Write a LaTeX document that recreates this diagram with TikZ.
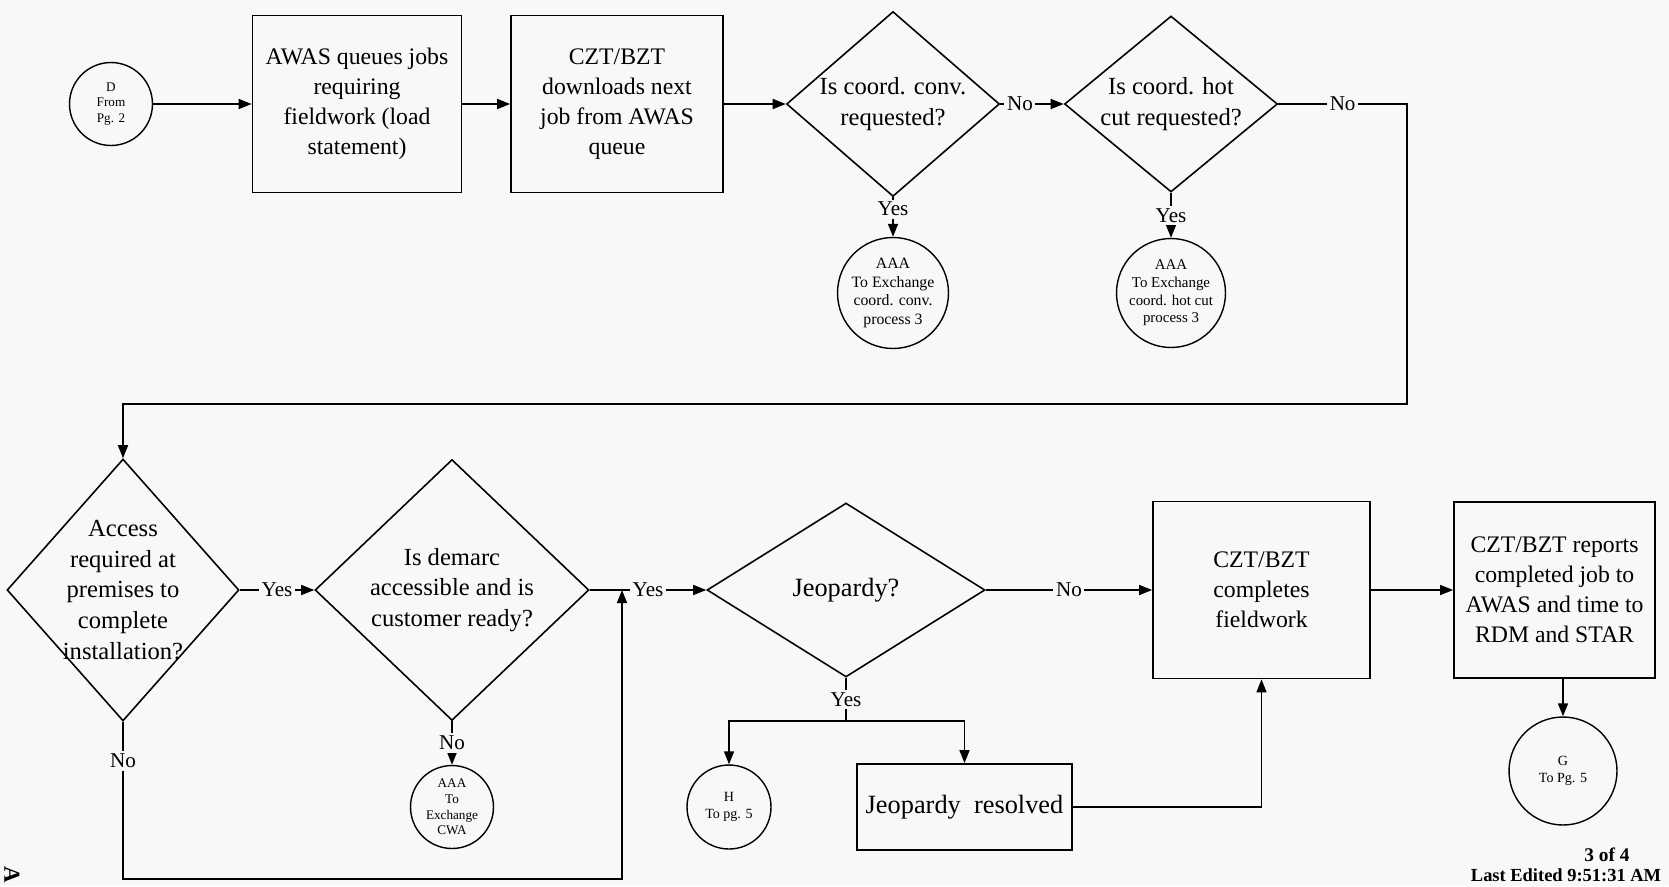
\documentclass[tikz,border=0pt]{standalone}
\usepackage{fontspec}
\setmainfont{Liberation Serif}
\usepackage{tikz}
\usetikzlibrary{shapes.geometric,arrows.meta}
\definecolor{paper}{RGB}{247,248,247}
\tikzstyle{proc} = [draw=black, line width=1pt, align=center, inner sep=1pt, font={\fontsize{13.5}{17}\selectfont}]
\tikzstyle{decide} = [draw=black, line width=0.9pt, diamond, inner sep=0pt]
\tikzstyle{qtext} = [align=center, inner sep=0pt, font={\fontsize{14}{17.5}\selectfont}]
\tikzstyle{conn} = [draw=black, line width=0.8pt, circle, inner sep=0pt, align=center, font={\fontsize{9}{10.5}\selectfont}]
\tikzstyle{lbl} = [fill=paper, inner sep=1.5pt, font={\fontsize{12}{13}\selectfont}]
\tikzstyle{flow} = [line width=0.9pt]

\begin{document}
\begin{tikzpicture}[x=0.02cm, y=-0.02cm, >={Triangle[length=0.26cm,width=0.2cm]}]
    \useasboundingbox (0,0) rectangle (1669,886);
    \fill[paper] (0,0) rectangle (1669,886);
    % top row
    \node[conn, minimum size=1.66cm, font={\fontsize{7.5}{9}\selectfont}](D) at (111,104){D\\From\\Pg. 2};
    \node[proc, minimum width=4.18cm, minimum height=3.54cm](awas) at (357,104){AWAS queues jobs\\requiring\\fieldwork (load\\statement)};
    \node[proc, minimum width=4.24cm, minimum height=3.54cm](dl) at (617,104){CZT/BZT\\downloads next\\job from AWAS\\queue};
    \node[decide, minimum width=4.26cm, minimum height=3.7cm, label={[qtext]center:{Is coord. conv.\\requested?}}](conv) at (893,104){};
    \node[decide, minimum width=4.26cm, minimum height=3.52cm, label={[qtext]center:{Is coord. hot\\cut requested?}}](hot) at (1171,104){};
    \node[conn, minimum size=2.22cm](aaa1) at (893,293){AAA\\To Exchange\\coord. conv.\\process 3};
    \node[conn, minimum size=2.18cm, font={\fontsize{8.5}{10}\selectfont}](aaa2) at (1171,293){AAA\\To Exchange\\coord. hot cut\\process 3};
    \coordinate (turnA) at (1407,404);
    \coordinate (turnB) at (123,404);
    % bottom row
    \node[decide, minimum width=4.64cm, minimum height=5.24cm, label={[qtext]center:{Access\\required at\\premises to\\complete\\installation?}}](acc) at (123,590){};
    \node[decide, minimum width=5.48cm, minimum height=5.22cm, label={[qtext]center:{Is demarc\\accessible and is\\customer ready?}}](demarc) at (452,590){};
    \node[conn, minimum size=1.66cm, font={\fontsize{7.5}{9}\selectfont}](cwa) at (452,807){AAA\\To\\Exchange\\CWA};
    \node[decide, minimum width=5.56cm, minimum height=3.48cm, label={[qtext, font={\fontsize{15}{17}\selectfont}]center:{Jeopardy?}}](jeo) at (846,590){};
    \node[conn, minimum size=1.68cm, font={\fontsize{8}{9.5}\selectfont}](H) at (729,807){H\\To pg. 5};
    \node[proc, minimum width=4.3cm, minimum height=1.72cm, font={\fontsize{15}{17}\selectfont}](res) at (964.5,807){Jeopardy\ \ resolved};
    \node[proc, minimum width=4.34cm, minimum height=3.54cm](fw) at (1261.5,590){CZT/BZT\\completes\\fieldwork};
    \node[proc, minimum width=4.02cm, minimum height=3.52cm](rep) at (1554.5,590){CZT/BZT reports\\completed job to\\AWAS and time to\\RDM and STAR};
    \node[conn, minimum size=2.16cm, font={\fontsize{8}{9.5}\selectfont}](G) at (1563,771){G\\To Pg. 5};
    \coordinate (split) at (846,721);
    \coordinate (loopL) at (123,879);
    \coordinate (loopR) at (622,879);
    % connectors
    \draw[flow,->](D)--(awas);
    \draw[flow,->](awas)--(dl);
    \draw[flow,->](dl)--(conv);
    \draw[flow,->](conv)--node[lbl,pos=0.31]{No}(hot);
    \draw[flow,->](conv)--node[lbl,pos=0.3]{Yes}(aaa1);
    \draw[flow,->](hot)--node[lbl]{Yes}(aaa2);
    \draw[flow,->](hot.east)--node[lbl]{No}(hot.east -| turnA)--(turnA)--(turnB)--(acc.north);
    \draw[flow,->](acc)--node[lbl]{Yes}(demarc);
    \draw[flow,->](demarc)--node[lbl]{No}(cwa);
    \draw[flow,->](demarc)--node[lbl]{Yes}(jeo);
    \draw[flow,->](acc.south)--node[lbl,pos=0.25]{No}(loopL)--(loopR)--(loopR |- jeo);
    \draw[flow,->](jeo)--node[lbl]{No}(fw);
    \draw[flow](jeo)--node[lbl]{Yes}(split);
    \draw[flow,->](split)-|(H);
    \draw[flow,->](split)-|(res);
    \draw[flow,->](res.east)-|(fw.south);
    \draw[flow,->](fw)--(rep);
    \draw[flow,->](rep.south -| G)--(G);
    % page notes
    \node[font={\bfseries\fontsize{11}{13}\selectfont}](pgno) at (1607,855){3 of 4};
    \node[font={\bfseries\fontsize{10.5}{12}\selectfont}](edited) at (1566,875){Last Edited 9:51:31 AM};
    \node[font={\bfseries\fontsize{13}{15}\selectfont}, rotate=-90](mark) at (12,875){A};
  \end{tikzpicture}
\end{document}
